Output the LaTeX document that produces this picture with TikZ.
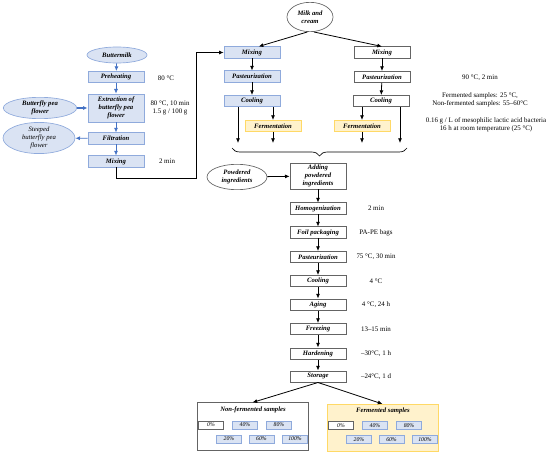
\documentclass[tikz,border=0pt]{standalone}
\usepackage{fontspec}
\setmainfont{Liberation Serif}
\usetikzlibrary{arrows.meta,shapes.geometric,decorations.pathreplacing}

\begin{document}
\begin{tikzpicture}[x=0.75pt,y=-0.75pt,
    >={Latex[length=3.5pt,width=3pt]},
    font=\fontsize{5.2}{6}\selectfont,
    stepbox/.style={draw=boxgray, fill=white, line width=0.5pt, minimum width=42pt, minimum height=8.5pt,
        inner sep=1pt, align=center, font=\fontsize{5}{6}\selectfont\bfseries\itshape},
    bluebox/.style={stepbox, draw=blueline, fill=bluefill},
    yellowbox/.style={stepbox, draw=yellowline, fill=yellowfill},
    oval/.style={ellipse, draw=boxgray, fill=white, line width=0.5pt, inner sep=0pt, align=center,
        font=\fontsize{5}{6}\selectfont\bfseries\itshape},
    blueoval/.style={oval, draw=blueline, fill=bluefill},
    note/.style={align=center, font=\fontsize{5.2}{6}\selectfont},
    flow/.style={->, line width=0.6pt},
    blueflow/.style={flow, draw=bluearrow},
    group/.style={draw=boxgray, line width=0.6pt, minimum width=83.25pt, minimum height=35.5pt, inner sep=0pt},
    sample/.style={draw=blueline, fill=bluefill, line width=0.5pt, minimum width=18.75pt, minimum height=6pt,
        inner sep=0pt, font=\fontsize{4.3}{4.8}\selectfont\itshape}]

    % Define colors
    \definecolor{boxgray}{RGB}{100,100,100}
    \definecolor{blueline}{RGB}{143,170,220}
    \definecolor{bluefill}{RGB}{218,227,243}
    \definecolor{bluearrow}{RGB}{68,114,196}
    \definecolor{yellowline}{RGB}{255,217,102}
    \definecolor{yellowfill}{RGB}{255,242,204}

    \useasboundingbox (0,0) rectangle (550,456);

    % Butterfly pea extract
    \node[blueoval, minimum width=45pt, minimum height=12pt] (butter) at (117,55) {Buttermilk};
    \node[bluebox] (preheat) at (116,77) {Preheating};
    \node[bluebox, minimum height=21pt] (extract) at (116,108) {Extraction of\\butterfly pea\\flower};
    \node[blueoval, minimum width=55pt, minimum height=16pt] (pea) at (40,108) {Butterfly pea\\flower};
    \node[bluebox] (filt) at (116,138.5) {Filtration};
    \node[blueoval, minimum width=54pt, minimum height=22pt, font=\fontsize{5}{6}\selectfont\itshape] (steep) at (39,138) {Steeped\\butterfly pea\\flower};
    \node[bluebox] (mixL) at (116,161.5) {Mixing};

    \node[note] at (166,78) {80 °C};
    \node[note] at (170,108) {80 °C, 10 min\\1.5 g / 100 g};
    \node[note] at (167,161.5) {2 min};

    \draw[blueflow] (butter) -- (preheat);
    \draw[blueflow] (preheat) -- (extract);
    \draw[blueflow] (extract) -- (filt);
    \draw[blueflow] (filt) -- (mixL);
    \draw[blueflow, line width=1pt] (pea) -- (extract);
    \draw[blueflow] (filt) -- (steep);

    % Milk and cream, two lines
    \node[oval, minimum width=34.5pt, minimum height=22pt] (milk) at (310,17) {Milk and\\cream};

    \node[bluebox] (mixA) at (252,52.5) {Mixing};
    \node[bluebox] (pastA) at (252,76.5) {Pasteurization};
    \node[bluebox] (coolA) at (252,101) {Cooling};
    \node[yellowbox] (ferA) at (273,126) {Fermentation};

    \node[stepbox] (mixB) at (382,52.5) {Mixing};
    \node[stepbox] (pastB) at (382,77) {Pasteurization};
    \node[stepbox] (coolB) at (381,101) {Cooling};
    \node[yellowbox] (ferB) at (362,126) {Fermentation};

    \node[note] at (480,78) {90 °C, 2 min};
    \node[note] at (480,100) {Fermented samples: 25 °C,\\Non-fermented samples: 55–60°C};
    \node[note] at (486,125) {0.16 g / L of mesophilic lactic acid bacteria\\16 h at room temperature (25 °C)};

    \coordinate (bend) at (196,178);
    \draw[flow] (mixL.south) |- (bend) |- (mixA.west);

    \draw[flow] ([xshift=-2pt]milk.south) -- ([xshift=5pt]mixA.north);
    \draw[flow] ([xshift=3pt]milk.south) -- (mixB.north);

    \draw[flow] (mixA) -- (pastA);
    \draw[flow] (pastA) -- (coolA);
    \draw[flow] (mixB) -- (pastB);
    \draw[flow] (pastB) -- (coolB);

    \coordinate (endA1) at (238,143);
    \coordinate (endA2) at (273,143);
    \coordinate (endB1) at (362,143);
    \coordinate (endB2) at (400,143);
    \draw[flow] (coolA.south -| endA1) -- (endA1);
    \draw[flow] (coolA.south -| ferA) -- (ferA.north);
    \draw[flow] (ferA.south) -- (endA2);
    \draw[flow] (coolB.south -| ferB) -- (ferB.north);
    \draw[flow] (ferB.south) -- (endB1);
    \draw[flow] (coolB.south -| endB2) -- (endB2);

    % Brace
    \coordinate (braceL) at (232,148);
    \coordinate (braceR) at (407,148);
    \draw[line width=0.5pt, decorate, decoration={brace, mirror, amplitude=6pt}] (braceL) -- (braceR);

    % Ice cream line
    \node[stepbox, minimum height=19.5pt] (add) at (318,176) {Adding\\powdered\\ingredients};
    \node[oval, minimum width=45pt, minimum height=19pt] (pow) at (237,177) {Powdered\\ingredients};
    \draw[flow] (pow) -- (add);

    \foreach \name/\txt/\y/\info in {homo/Homogenization/208.5/2 min,
            foil/Foil packaging/232.5/PA-PE bags,
            past/Pasteurization/257/{75 °C, 30 min},
            cool/Cooling/281/4 °C,
            aging/Aging/304.5/{4 °C, 24 h},
            freez/Freezing/329/13–15 min,
            hard/Hardening/353.5/{–30°C, 1 h},
            store/Storage/376.5/{–24°C, 1 d}}
    {
        \node[stepbox] (\name) at (318,\y) {\txt};
        \node[note] at (376,\y) {\info};
    }

    \foreach \a/\b in {add/homo, homo/foil, foil/past, past/cool, cool/aging, aging/freez, freez/hard, hard/store}
        \draw[flow] (\a) -- (\b);

    % Samples
    \node[group] (nonfer) at (252.5,426.5) {};
    \node[group, draw=yellowline, fill=yellowfill] (fer) at (382.5,428) {};
    \node[font=\fontsize{5}{6}\selectfont\bfseries\itshape] at (253,410) {Non-fermented samples};
    \node[font=\fontsize{5}{6}\selectfont\bfseries\itshape] at (383,410.5) {Fermented samples};

    \draw[flow] (store.south) -- (nonfer.north);
    \draw[flow] (store.south) -- (fer.north);

    \foreach \g/\gx/\gy in {nf/197/0, f/327/0.5}
    {
        \node[sample, draw=boxgray, fill=white] (\g0) at (\gx+14,425+\gy) {0\%};
        \foreach \pc/\dx/\y in {20/32/439, 40/48/425, 60/64.5/439, 80/82/425, 100/98/439}
            \node[sample] (\g\pc) at (\gx+\dx,\y+\gy) {\pc\%};
    }

\end{tikzpicture}
\end{document}
